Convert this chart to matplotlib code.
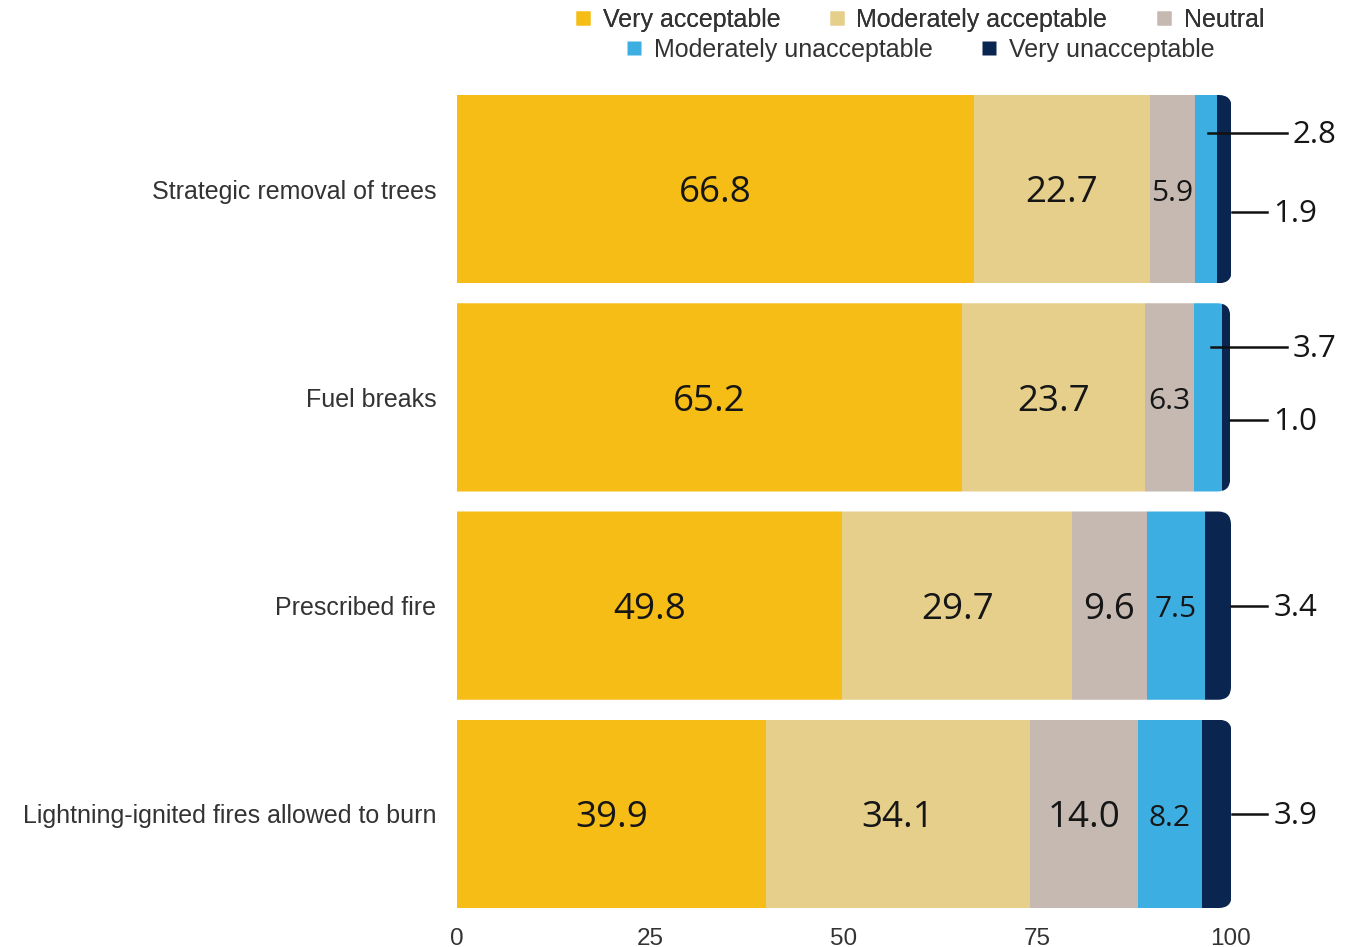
import matplotlib
matplotlib.use("Agg")
import matplotlib.pyplot as plt
from matplotlib.patches import FancyBboxPatch
from matplotlib.lines import Line2D
import numpy as np

categories = ["Strategic removal of trees", "Fuel breaks", "Prescribed fire",
              "Lightning-ignited fires allowed to burn"]
series_names = ["Very acceptable", "Moderately acceptable", "Neutral",
                "Moderately unacceptable", "Very unacceptable"]
very_acceptable = [66.8, 65.2, 49.8, 39.9]
moderately_acceptable = [22.7, 23.7, 29.7, 34.1]
neutral = [5.9, 6.3, 9.6, 14.0]
moderately_unacceptable = [2.8, 3.7, 7.5, 8.2]
very_unacceptable = [1.9, 1.0, 3.4, 3.9]
xticks = [0, 25, 50, 75, 100]

colors = ["#F6BD16", "#E6CF8B", "#C5B9B2", "#3DAEE2", "#0B2551"]
series = [very_acceptable, moderately_acceptable, neutral,
          moderately_unacceptable, very_unacceptable]

W, H = 1360, 947
fig = plt.figure(figsize=(W / 100, H / 100), dpi=100)
ax = fig.add_axes([457 / W, 1 - 918 / H, (1231 - 457) / W, (918 - 85) / H])
ax.set_xlim(0, 100)
ax.set_ylim(3.5, -0.5)

bar_h = 0.904
px_x = (1231 - 457) / 100.0
px_y = (918 - 85) / 4.0
r_px = 13
rx = r_px / px_x
aspect = (r_px / px_y) / rx

val_font = "Open Sans"
txt_color = "#161616"
big_fs = 26.5
small_fs = 21.5
out_fs = 22.5

for i, cat in enumerate(categories):
    total = sum(s[i] for s in series)
    clip = FancyBboxPatch((-10, i - bar_h / 2), total + 10, bar_h,
                          boxstyle=f"round,pad=0,rounding_size={rx}",
                          mutation_aspect=aspect, transform=ax.transData)
    left = 0
    for k, s in enumerate(series):
        v = s[i]
        bars = ax.barh(i, v, left=left, height=bar_h, color=colors[k],
                       edgecolor="none", linewidth=0)
        for b in bars:
            b.set_clip_path(clip)
        cx = left + v / 2
        if v >= 9:
            ax.text(cx, i + 0.02, f"{v:.1f}", ha="center", va="center",
                    fontsize=big_fs, family=val_font, color=txt_color)
        elif v >= 5:
            ax.text(cx, i + 0.02, f"{v:.1f}", ha="center", va="center",
                    fontsize=small_fs, family=val_font, color=txt_color)
        left += v

# leader-line annotations for small segments
def leader(x0, x1, y, label):
    ax.plot([x0, x1], [y, y], color="#111111", lw=1.8, clip_on=False)
    ax.text(x1 + 0.8, y + 0.01, label, ha="left", va="center", fontsize=out_fs,
            family=val_font, color=txt_color, clip_on=False)

upper_offsets = [-(189 - 133) / px_y, -(398 - 348) / px_y]
for i in range(len(categories)):
    total = sum(s[i] for s in series)
    mu = moderately_unacceptable[i]
    vu = very_unacceptable[i]
    if mu < 5:
        start_mu = very_acceptable[i] + moderately_acceptable[i] + neutral[i]
        leader(start_mu + mu * 0.6, 107.2, i + upper_offsets[i], f"{mu:.1f}")
        leader(total, 104.7, i + (212 - 189) / px_y, f"{vu:.1f}")
    else:
        leader(total, 104.7, i + 0.0, f"{vu:.1f}")

ax.set_yticks(range(len(categories)))
ax.set_yticklabels(categories, fontsize=18, family="Liberation Sans", color="#333333")
ax.set_xticks(xticks)
ax.set_xticklabels([str(t) for t in xticks], fontsize=17.5, family="Liberation Sans",
                   color="#333333")
ax.tick_params(axis="y", length=0, pad=15)
ax.tick_params(axis="x", length=0, pad=7)
for sp in ax.spines.values():
    sp.set_visible(False)

def handle(c):
    return Line2D([], [], marker="s", color="none", markerfacecolor=c,
                  markeredgecolor="none", markersize=10)

leg_kw = dict(frameon=False, prop={"family": "Liberation Sans", "size": 18},
              handlelength=0.7, handletextpad=0.45, columnspacing=1.9,
              labelcolor="#333333", borderaxespad=0, borderpad=0)
leg1 = fig.legend([handle(c) for c in colors[:3]], series_names[:3], ncol=3,
                  loc="center", bbox_to_anchor=(919 / W, 1 - 20 / H), **leg_kw)
leg2 = fig.legend([handle(c) for c in colors[3:]], series_names[3:], ncol=2,
                  loc="center", bbox_to_anchor=(920 / W, 1 - 50 / H), **leg_kw)
fig.add_artist(leg1)

fig.savefig("out.png", dpi=100, facecolor="white")
